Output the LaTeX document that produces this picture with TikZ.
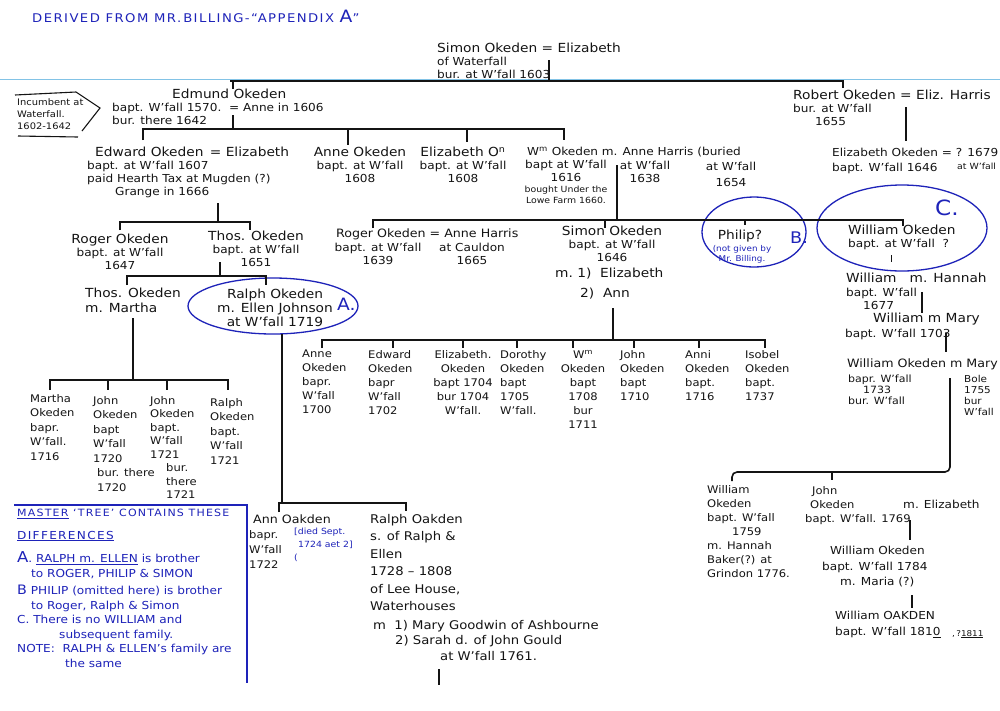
\documentclass[tikz,border=0pt]{standalone}
\usepackage{fontspec}
\setmainfont{DejaVu Sans}[FakeStretch=1.1]
\newfontfamily\spaced{DejaVu Sans}[LetterSpace=12,FakeStretch=1.1]
\usetikzlibrary{positioning,shapes.geometric}
\definecolor{ink}{RGB}{20,20,20}
\definecolor{biro}{RGB}{30,35,185}
\definecolor{scan}{RGB}{130,195,230}
\newcommand{\namesz}{\fontsize{12.5}{15}\selectfont}
\newcommand{\detsz}{\fontsize{11}{13}\selectfont}

\begin{document}
\begin{tikzpicture}[x=1pt,y=-1pt,
    txt/.style={inner sep=0pt,anchor=north west,align=left,font=\detsz,text=ink},
    ctr/.style={txt,anchor=north,align=center},
    kid/.style={txt,font=\fontsize{10.5}{14}\selectfont},
    note/.style={inner sep=0pt,anchor=north west,align=left,text=biro},
    ring/.style={draw=biro,line width=1.3pt,ellipse,inner sep=0pt},
    line/.style={draw=ink,line width=1.6pt},
    scanline/.style={draw=scan,line width=1pt}]
  \fill[white] (0,0) rectangle (1000,710);
  \useasboundingbox (0,0) rectangle (1000,710);
  \draw[scanline] (0,79) -- (1000,79);

  \node[note,font=\spaced\fontsize{12}{14}\selectfont] (title) at (32,10)
    {DERIVED FROM MR.\,BILLING-“APPENDIX {\fontsize{17}{17}\selectfont A}”};

  % generation 1
  \node[txt] (simon) at (437,43)
    {{\namesz Simon Okeden = Elizabeth}\\of Waterfall\\bur. at W’fall 1603};
  \node[txt] (edmund) at (112,89)
    {\hspace*{60pt}{\namesz Edmund Okeden}\\bapt. W’fall 1570.~~= Anne in 1606\\bur. there 1642};
  \node[txt,font=\fontsize{9}{12}\selectfont] (incumb) at (17,98)
    {Incumbent at\\Waterfall.\\1602-1642};
  \node[txt] (robert) at (793,90)
    {{\namesz Robert Okeden = Eliz. Harris}\\bur. at W’fall\\\hspace*{22pt}1655};

  % generation 2
  \node[txt] (edward) at (87,147)
    {\hspace*{8pt}{\namesz Edward Okeden \,= Elizabeth}\\bapt. at W’fall 1607\\paid Hearth Tax at Mugden (?)\\\hspace*{28pt}Grange in 1666};
  \node[ctr] (anne) at (360,147) {{\namesz Anne Okeden}\\bapt. at W’fall\\1608};
  \node[ctr] (eliz) at (463,147) {{\namesz Elizabeth O\textsuperscript{n}}\\bapt. at W’fall\\1608};
  \node[txt] (wm) at (527,147) {W\textsuperscript{m} Okeden m. Anne Harris (buried};
  \node[ctr] (wmbapt) at (566,160) {bapt at W’fall\\1616};
  \node[ctr,font=\fontsize{8.5}{11}\selectfont] (wmfarm) at (566,186) {bought Under the\\Lowe Farm 1660.};
  \node[ctr] (harris) at (645,161) {at W’fall\\1638};
  \node[ctr] (buried) at (731,162) {at W’fall\\[3pt]1654};
  \node[txt] (elizr) at (832,148) {Elizabeth Okeden = ? 1679\\[2pt]bapt. W’fall 1646};
  \node[txt,font=\fontsize{8.5}{10}\selectfont] (elizrat) at (957,163) {at W’fall};

  % generation 3
  \node[ctr] (roger) at (120,234) {{\namesz Roger Okeden}\\bapt. at W’fall\\1647};
  \node[ctr] (thos) at (256,231) {{\namesz Thos. Okeden}\\bapt. at W’fall\\1651};
  \node[txt,font=\fontsize{11.5}{13}\selectfont] (rogerb) at (336,229) {Roger Okeden = Anne Harris};
  \node[ctr] (rogerbapt) at (378,243) {bapt. at W’fall\\1639};
  \node[ctr] (cauldon) at (472,243) {at Cauldon\\1665};
  \node[ctr] (simonb) at (612,226) {{\namesz Simon Okeden}\\bapt. at W’fall\\1646};
  \node[txt,font=\fontsize{12.5}{20}\selectfont] (simonm) at (555,268) {m.~1)~ Elizabeth\\\hspace*{25pt}2)~ Ann};
  \node[ctr,font=\namesz] (philip) at (740,230) {Philip?};
  \node[note,anchor=north,align=center,font=\fontsize{8}{10}\selectfont] (philipn) at (742,245) {(not given by\\Mr. Billing.};
  \node[txt] (william) at (848,225) {{\namesz William Okeden}\\bapt. at W’fall ~?};

  \node[ring,minimum width=170pt,minimum height=56pt] (ringA) at (273,306) {};
  \node[ring,minimum width=104pt,minimum height=70pt] (ringB) at (754,232) {};
  \node[ring,minimum width=170pt,minimum height=86pt] (ringC) at (902,228) {};
  \node[note,anchor=west,font=\fontsize{17}{17}\selectfont] (markA) at (337,304) {A.};
  \node[note,anchor=west,font=\fontsize{16}{16}\selectfont] (markB) at (790,238) {B.};
  \node[note,anchor=west,font=\fontsize{21}{21}\selectfont] (markC) at (935,208) {C.};

  % generation 4
  \node[txt,font=\namesz] (thosm) at (85,288) {Thos. Okeden\\m. Martha};
  \node[ctr,font=\fontsize{12.5}{14}\selectfont] (ralph) at (275,289) {Ralph Okeden\\m. Ellen Johnson\\at W’fall 1719};
  \node[txt,font=\namesz] (whannah) at (846,273) {William~~~m. Hannah};
  \node[txt] (whannahb) at (846,288) {bapt. W’fall\\\hspace*{17pt}1677};
  \node[txt,font=\namesz] (wmary) at (873,313) {William m Mary};
  \node[txt] (wmaryb) at (845,329) {bapt. W’fall 1703};
  \node[txt,font=\fontsize{11.5}{13}\selectfont] (wokeden) at (847,359) {William Okeden m Mary};
  \node[txt,font=\fontsize{10}{11}\selectfont] (wokedenb) at (848,375) {bapr. W’fall\\\hspace*{15pt}1733\\bur. W’fall};
  \node[txt,font=\fontsize{9.5}{11}\selectfont] (bole) at (964,375) {Bole\\1755\\bur\\W’fall};

  % children of Thos. and Martha
  \node[kid,font=\fontsize{10.5}{14.5}\selectfont] (martha) at (30,394) {Martha\\Okeden\\bapr.\\W’fall.\\1716};
  \node[kid,font=\fontsize{10.5}{14.5}\selectfont] (johna) at (93,396) {John\\Okeden\\bapt\\W’fall\\1720\\\hspace*{4pt}bur. there\\\hspace*{4pt}1720};
  \node[kid,font=\fontsize{10.5}{13.5}\selectfont] (johnb) at (150,396) {John\\Okeden\\bapt.\\W’fall\\1721\\\hspace*{16pt}bur.\\\hspace*{16pt}there\\\hspace*{16pt}1721};
  \node[kid,font=\fontsize{10.5}{14.5}\selectfont] (ralphb) at (210,398) {Ralph\\Okeden\\bapt.\\W’fall\\1721};

  % children of Simon
  \node[kid] (annec) at (302,350) {Anne\\Okeden\\bapr.\\W’fall\\1700};
  \node[kid] (edwardc) at (368,350) {Edward\\Okeden\\bapr\\W’fall\\1702};
  \node[kid,anchor=north,align=center] (elizc) at (463,350) {Elizabeth.\\Okeden\\bapt 1704\\bur 1704\\W’fall.};
  \node[kid] (dorothy) at (500,350) {Dorothy\\Okeden\\bapt\\1705\\W’fall.};
  \node[kid,anchor=north,align=center] (wmc) at (583,350) {W\textsuperscript{m}\\Okeden\\bapt\\1708\\bur\\1711};
  \node[kid] (johnc) at (620,350) {John\\Okeden\\bapt\\1710};
  \node[kid] (anni) at (685,350) {Anni\\Okeden\\bapt.\\1716};
  \node[kid] (isobel) at (745,350) {Isobel\\Okeden\\bapt.\\1737};

  % children of Ralph and Ellen
  \node[txt,font=\fontsize{11.5}{13}\selectfont] (anno) at (253,515) {Ann Oakden};
  \node[kid,font=\fontsize{10.5}{15}\selectfont] (annob) at (249,530) {bapr.\\W’fall\\1722};
  \node[note,font=\fontsize{8.5}{13}\selectfont] (died) at (294,528) {[died Sept.\\\hspace*{4pt}1724 aet 2]\\(};
  \node[txt,font=\fontsize{12}{17.5}\selectfont] (ralpho) at (370,514)
    {Ralph Oakden\\s. of Ralph \&\\Ellen\\1728 – 1808\\of Lee House,\\Waterhouses};
  \node[txt,font=\fontsize{12}{15.5}\selectfont] (ralphom) at (373,620)
    {m~ 1) Mary Goodwin of Ashbourne\\\hspace*{22pt}2) Sarah d. of John Gould\\\hspace*{67pt}at W’fall 1761.};

  % later Okedens
  \node[kid] (wilc) at (707,485) {William\\Okeden\\bapt. W’fall\\\hspace*{25pt}1759\\m. Hannah\\Baker(?) at\\Grindon 1776.};
  \node[kid] (johnd) at (805,486) {\hspace*{7pt}John\\\hspace*{5pt}Okeden\\bapt. W’fall. 1769};
  \node[txt] (melz) at (903,500) {m. Elizabeth};
  \node[txt,font=\fontsize{11}{15.5}\selectfont] (wild) at (822,546) {\hspace*{8pt}William Okeden\\bapt. W’fall 1784\\\hspace*{18pt}m. Maria (?)};
  \node[txt,font=\fontsize{11}{16}\selectfont] (wile) at (835,611) {William OAKDEN\\bapt. W’fall 181\underline{0}};
  \node[txt,font=\fontsize{8}{10}\selectfont] (wileq) at (952,630) {,\,?\underline{1811}};

  % note box
  \node[note,font=\fontsize{11}{14.5}\selectfont] (notes) at (17,509)
    {{\spaced\fontsize{10}{12}\selectfont\underline{MASTER} ‘TREE’ CONTAINS THESE}\\[8pt]
     {\spaced\underline{DIFFERENCES}}\\[9pt]
     {\fontsize{15}{15}\selectfont A}. \underline{RALPH m. ELLEN} is brother\\
     \hspace*{14pt}to ROGER, PHILIP \& SIMON\\[3pt]
     {\fontsize{13}{13}\selectfont B} PHILIP (omitted here) is brother\\
     \hspace*{14pt}to Roger, Ralph \& Simon\\
     C. There is no WILLIAM and\\
     \hspace*{42pt}subsequent family.\\
     NOTE:\ \ RALPH \& ELLEN’s family are\\
     \hspace*{48pt}the same};
  \coordinate (boxnw) at (14,505);
  \coordinate (boxne) at (247,505);
  \coordinate (boxse) at (247,683);
  \draw[draw=biro,line width=1.5pt] (boxnw) -- (boxne) -- (boxse);

  % incumbent pointer
  \draw[line,line width=1.1pt] (15,95) -- (76,92) -- (100,108) -- (82,131);
  \draw[line,line width=1.1pt] (18,136) -- (78,137);

  % lines of descent
  \coordinate (s0) at (549,60);
  \coordinate (b0l) at (230,81);
  \coordinate (b0r) at (843,81);
  \coordinate (k0a) at (233,81);
  \draw[line] (s0) -- (s0 |- b0l);
  \draw[line] (b0l) -- (b0r) -- ++(0,7);
  \draw[line] (k0a) -- ++(0,8);

  \coordinate (s1) at (233,115);
  \coordinate (b1l) at (143,129);
  \coordinate (b1r) at (564,129);
  \coordinate (k1a) at (348,129);
  \coordinate (k1b) at (467,129);
  \draw[line] (s1) -- (s1 |- b1l);
  \draw[line] (b1l) ++(0,11) -- (b1l) -- (b1r) -- ++(0,11);
  \draw[line] (k1a) -- ++(0,16);
  \draw[line] (k1b) -- ++(0,13);

  \coordinate (sr) at (906,107);
  \draw[line] (sr) -- ++(0,34);

  \coordinate (s2) at (218,203);
  \coordinate (b2l) at (120,222);
  \coordinate (b2r) at (250,222);
  \draw[line] (s2) -- (s2 |- b2l);
  \draw[line] (b2l) ++(0,8) -- (b2l) -- (b2r) -- ++(0,8);

  \coordinate (s3) at (617,165);
  \coordinate (b3l) at (373,220);
  \coordinate (b3r) at (903,220);
  \coordinate (k3a) at (605,220);
  \coordinate (k3b) at (745,220);
  \draw[line] (s3) -- (s3 |- b3l);
  \draw[line] (b3l) ++(0,8) -- (b3l) -- (b3r) -- ++(0,6);
  \draw[line] (k3a) -- ++(0,8);
  \draw[line] (k3b) -- ++(0,5);

  \coordinate (s4) at (220,262);
  \coordinate (b4l) at (127,276);
  \coordinate (b4r) at (266,276);
  \draw[line] (s4) -- (s4 |- b4l);
  \draw[line] (b4l) ++(0,9) -- (b4l) -- (b4r) -- ++(0,9);

  \coordinate (s5) at (133,318);
  \coordinate (b5l) at (50,380);
  \coordinate (b5r) at (228,380);
  \coordinate (k5a) at (108,380);
  \coordinate (k5b) at (167,380);
  \draw[line] (s5) -- (s5 |- b5l);
  \draw[line] (b5l) ++(0,10) -- (b5l) -- (b5r) -- ++(0,10);
  \draw[line] (k5a) -- ++(0,10);
  \draw[line] (k5b) -- ++(0,10);

  \coordinate (s6) at (282,334);
  \coordinate (b6l) at (279,503);
  \coordinate (b6r) at (406,503);
  \draw[line] (s6) -- (s6 |- b6l);
  \draw[line] (b6l) ++(0,9) -- (b6l) -- (b6r) -- ++(0,8);

  \coordinate (s7) at (613,308);
  \coordinate (b7l) at (322,340);
  \coordinate (b7r) at (765,340);
  \coordinate (k7a) at (393,340);
  \coordinate (k7b) at (463,340);
  \coordinate (k7c) at (517,340);
  \coordinate (k7d) at (573,340);
  \coordinate (k7e) at (634,340);
  \coordinate (k7f) at (699,340);
  \draw[line] (s7) -- (s7 |- b7l);
  \draw[line] (b7l) ++(0,8) -- (b7l) -- (b7r) -- ++(0,8);
  \draw[line] (k7a) -- ++(0,8);
  \draw[line] (k7b) -- ++(0,8);
  \draw[line] (k7c) -- ++(0,8);
  \draw[line] (k7d) -- ++(0,8);
  \draw[line] (k7e) -- ++(0,8);
  \draw[line] (k7f) -- ++(0,8);

  \coordinate (s8) at (439,669);
  \draw[line] (s8) -- ++(0,16);

  \coordinate (sw1) at (891,255);
  \coordinate (sw2) at (922,292);
  \coordinate (sw3) at (946,333);
  \draw[line,line width=1pt] (sw1) -- ++(0,7);
  \draw[line] (sw2) -- ++(0,21);
  \draw[line] (sw3) -- ++(0,19);

  \coordinate (s9) at (950,378);
  \coordinate (b9l) at (732,472);
  \coordinate (k9a) at (832,472);
  \draw[line,rounded corners=5pt] (s9) -- (s9 |- b9l) -- (b9l) -- ++(0,9);
  \draw[line] (k9a) -- ++(0,8);

  \coordinate (s10) at (910,520);
  \coordinate (s11) at (912,595);
  \draw[line] (s10) -- ++(0,20);
  \draw[line] (s11) -- ++(0,13);
\end{tikzpicture}
\end{document}
